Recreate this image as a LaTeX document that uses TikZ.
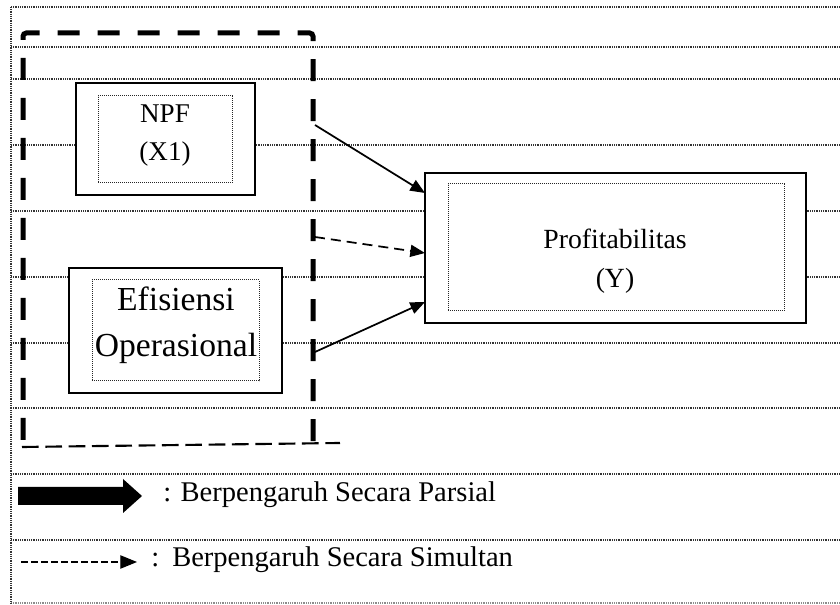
\documentclass[tikz,border=0pt]{standalone}
\usepackage{fontspec}
\setmainfont{Liberation Serif}
\usetikzlibrary{arrows.meta,fit}
\begin{document}
\begin{tikzpicture}[x=0.75pt,y=-0.75pt,
  gridline/.style={black!80, line width=0.9pt, dash pattern=on 0.75pt off 0.6pt},
  outerbox/.style={draw, line width=1.5pt, fill=white, rectangle, inner sep=0pt},
  innerbox/.style={draw, black!85, line width=0.75pt, dash pattern=on 0.75pt off 0.75pt, rectangle, inner sep=0pt},
  framedash/.style={line width=3.75pt, dash pattern=on 16.5pt off 13.5pt, rounded corners=2.5pt},
  bottomdash/.style={line width=1.6pt, dash pattern=on 12.5pt off 5pt},
  partarrow/.style={line width=1.3pt, -{Triangle[length=11pt,width=9pt]}},
  simarrow/.style={line width=1.3pt, dash pattern=on 7.5pt off 4.5pt, -{Triangle[length=11pt,width=9pt]}},
  legdash/.style={line width=0.9pt, dash pattern=on 5pt off 2.5pt, -{Triangle[length=12.5pt,width=10pt]}},
  txt/.style={inner sep=0pt, anchor=base},
  fnpf/.style={font=\fontsize{20.3}{24}\selectfont},
  fprof/.style={font=\fontsize{20.8}{24}\selectfont},
  feff/.style={font=\fontsize{25.2}{30}\selectfont},
  fleg/.style={font=\fontsize{21.4}{26}\selectfont}
]
\useasboundingbox (0,0) rectangle (840,605);
\fill[white] (0,0) rectangle (840,605);

% background ruled lines
\foreach \yy in {7,47,79,145,211,277,343,408,474,540}{
  \draw[gridline] (11,\yy) -- (840,\yy);
}
\draw[gridline, black!45] (11,603) -- (840,603);
\draw[gridline] (11,7) -- (11,603);

% boxes
\node[outerbox, fit={(76,83) (255,195)}] (npf) {};
\node[innerbox, fit={(98,96) (232,183)}] (npfin) {};
\node[txt, fnpf] (npf1) at (165,123) {NPF};
\node[txt, fnpf] (npf2) at (165,161) {(X1)};

\node[outerbox, fit={(69,268) (282,393)}] (eff) {};
\node[innerbox, fit={(92,280) (259,381)}] (effin) {};
\node[txt, feff] (eff1) at (176,311) {Efisiensi};
\node[txt, feff] (eff2) at (176,357) {Operasional};

\node[outerbox, line width=1.7pt, fit={(425,173) (806,323)}] (prof) {};
\node[innerbox, fit={(448,184) (784,311)}] (profin) {};
\node[txt, fprof] (prof1) at (615,249) {Profitabilitas};
\node[txt, fprof] (prof2) at (615,288) {(Y)};

% dashed grouping frame
\draw[framedash] (23,440) -- (23,33) -- (313,33) -- (313,442);
\coordinate (bl) at (22,447);
\coordinate (br) at (340,443);
\draw[bottomdash] (bl) -- (br);

% connectors
\coordinate (s1) at (315,125);
\coordinate (s2) at (315,237);
\coordinate (s3) at (315,352);
\coordinate (e1) at (425,193);
\coordinate (e2) at (425,253);
\coordinate (e3) at (425,302);
\draw[partarrow] (s1) -- (e1);
\draw[simarrow] (s2) -- (e2);
\draw[partarrow] (s3) -- (e3);

% legend
\fill (18,487) -- (123,487) -- (123,479) -- (142,496) -- (123,513) -- (123,505) -- (18,505) -- cycle;
\node[txt, fleg, anchor=base west] (leg1) at (163,502) {: Berpengaruh Secara Parsial};
\coordinate (l2s) at (21,562);
\coordinate (l2e) at (137,562);
\draw[legdash] (l2s) -- (l2e);
\node[txt, fleg, anchor=base west] (leg2c) at (151,567) {:};
\node[txt, fleg, anchor=base west] (leg2) at (172,567) {Berpengaruh Secara Simultan};
\end{tikzpicture}
\end{document}
